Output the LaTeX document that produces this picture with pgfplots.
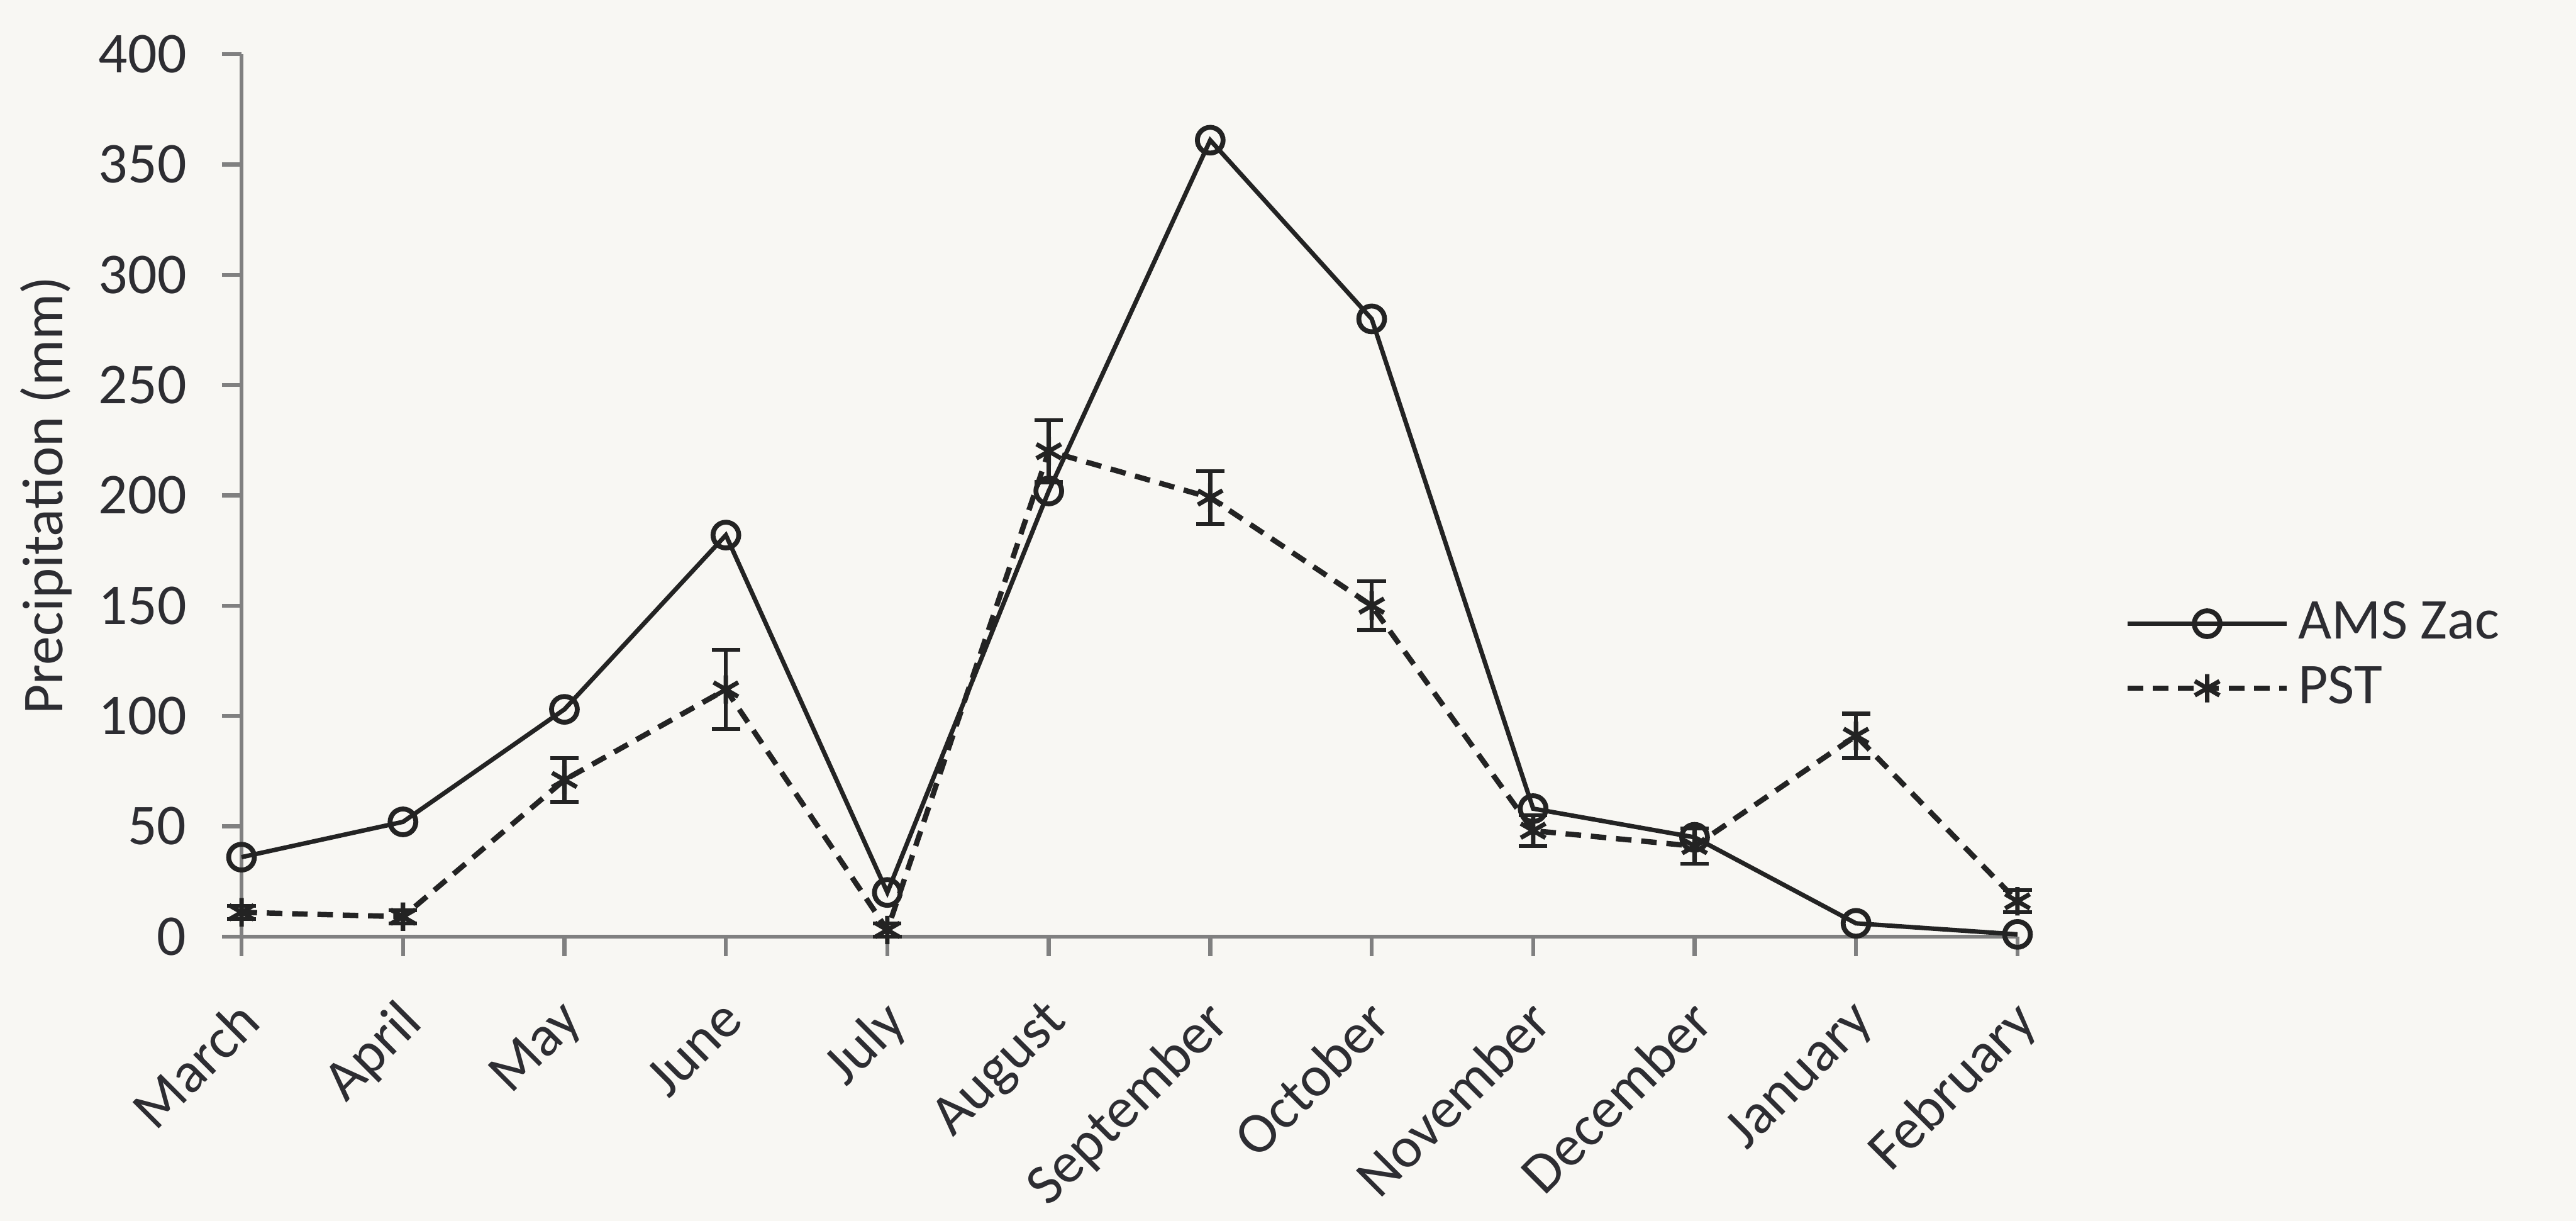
\documentclass[border=0pt]{standalone}
\usepackage{fontspec}
\setmainfont{Carlito}
\usepackage{pgfplots}
\pgfplotsset{compat=1.18}
\definecolor{bg}{RGB}{248,247,243}
\definecolor{axisgray}{RGB}{128,128,128}
\definecolor{txt}{RGB}{45,45,50}
\definecolor{ln}{RGB}{35,35,35}
\begin{document}
\begin{tikzpicture}
\path[use as bounding box, fill=bg] (-54.4pt,-64pt) rectangle (525.8pt,210.9pt);
\begin{axis}[
 scale only axis, width=400pt, height=198.7pt,
 xmin=0, xmax=11, ymin=0, ymax=400,
 axis x line=bottom, axis y line=left,
 axis line style={axisgray, line width=0.9pt, -},
 xtick={0,...,11},
 xticklabels={March,April,May,June,July,August,September,October,November,December,January,February},
 ytick={0,50,...,400},
 tick align=outside, major tick length=4.4pt,
 tick style={axisgray, line width=0.9pt},
 x tick label style={rotate=45, anchor=north east, inner sep=0pt, xshift=-7.4pt, yshift=-5.1pt},
 y tick label style={inner sep=0pt, xshift=-7.8pt},
 ticklabel style={font=\fontsize{13}{15}\selectfont, text=txt},
 /pgf/number format/assume math mode=true,
 ylabel={Precipitation (mm)},
 ylabel style={font=\fontsize{13}{15}\selectfont, text=txt, at={(axis description cs:-0.11,0.5)}, anchor=center},
 clip=false,
 legend style={draw=none, fill=none, at={(1.06,0.318)}, anchor=west, font=\fontsize{13}{15}\selectfont, text=txt, row sep=0.6pt, inner sep=0pt, cells={anchor=west}},
 legend image code/.code={\draw[mark repeat=2,mark phase=2,#1] plot coordinates {(0cm,0cm) (0.63cm,0cm) (1.26cm,0cm)};},
]
\addplot[ln, line width=1pt, mark=o, mark size=2.9pt, mark options={solid, line width=1.1pt}] coordinates {
(0,36) (1,52) (2,103) (3,182) (4,20) (5,202) (6,361) (7,280) (8,58) (9,45) (10,6) (11,1)};
\addplot[ln, line width=1.2pt, dash pattern=on 3.5pt off 2.2pt, mark=asterisk, mark size=3.2pt, mark options={solid, line width=1pt},
 error bars/.cd, y dir=both, y explicit,
 error bar style={solid, line width=0.9pt, ln},
 error mark options={rotate=90, mark size=3.2pt, line width=0.9pt, ln, solid}] coordinates {
(0,11) +- (0,3)
(1,9) +- (0,3)
(2,71) +- (0,10)
(3,112) +- (0,18)
(4,3) +- (0,3)
(5,220) +- (0,14)
(6,199) +- (0,12)
(7,150) +- (0,11)
(8,48) +- (0,7)
(9,41) +- (0,8)
(10,91) +- (0,10)
(11,16) +- (0,5)};
\legend{AMS Zac, PST}
\end{axis}
\end{tikzpicture}
\end{document}
